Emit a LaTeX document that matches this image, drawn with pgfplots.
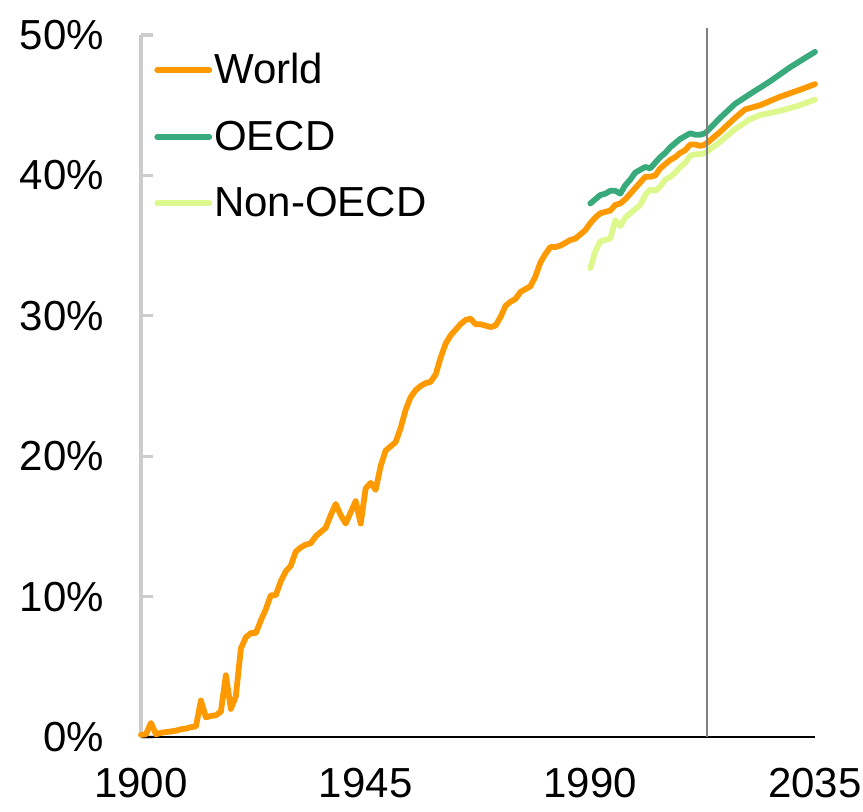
\documentclass[border=0pt]{standalone}
\usepackage{fontspec}
\setmainfont{Liberation Sans}
\usepackage{pgfplots}
\pgfplotsset{compat=1.18}

\definecolor{worldc}{RGB}{255,153,0}
\definecolor{oecdc}{RGB}{56,170,124}
\definecolor{nonoecdc}{RGB}{221,248,140}
\definecolor{axgray}{RGB}{204,204,204}

\newcommand{\bigfont}{\fontsize{21}{25}\selectfont}

\begin{document}
\begin{tikzpicture}
\path[use as bounding box] (-70.5pt,-37pt) rectangle (361pt,368.5pt);
\begin{axis}[
  scale only axis,
  width=337pt, height=351pt,
  xmin=1900, xmax=2035,
  ymin=0, ymax=50,
  clip=false,
  axis x line*=bottom,
  axis y line*=left,
  x axis line style={black, line width=1pt, -},
  y axis line style={axgray, line width=1.6pt, -},
  xtick={1900,1945,1990,2035},
  ytick={0,10,20,30,40,50},
  xtick style={draw=none},
  ytick style={axgray, line width=1.6pt},
  ytick align=inside,
  major tick length=6pt,
  yticklabel={\pgfmathprintnumber{\tick}\%},
  /pgf/number format/assume math mode=true,
  /pgf/number format/1000 sep={},
  ticklabel style={font=\bigfont},
  yticklabel style={xshift=-15pt},
  xticklabel style={yshift=-12pt},
  legend style={at={(0,1)}, anchor=north west, draw=none, fill=none,
    xshift=6.5pt, yshift=-7pt, font=\bigfont, row sep=13pt,
    inner sep=0pt, nodes={inner xsep=1pt}},
  legend cell align=left,
  legend image code/.code={\draw[#1, line cap=round] (0pt,0pt) -- (26pt,0pt);},
  every axis plot/.append style={line width=2.9pt, line join=round, line cap=round},
]
\addplot[worldc] coordinates {
(1900,0.15) (1901,0.2) (1902,1.0) (1903,0.2) (1904,0.3) (1905,0.35) (1906,0.4)
(1907,0.45) (1908,0.55) (1909,0.6) (1910,0.7) (1911,0.75) (1912,2.6) (1913,1.4)
(1914,1.5) (1915,1.55) (1916,1.8) (1917,4.4) (1918,2.0) (1919,2.9) (1920,6.3)
(1921,7.1) (1922,7.4) (1923,7.4) (1924,8.3) (1925,9.1) (1926,10.1) (1927,10.1)
(1928,11.1) (1929,11.8) (1930,12.2) (1931,13.2) (1932,13.5) (1933,13.7) (1934,13.8)
(1935,14.3) (1936,14.6) (1937,14.9) (1938,15.8) (1939,16.6) (1940,15.8) (1941,15.2)
(1942,16.0) (1943,16.8) (1944,15.2) (1945,17.7) (1946,18.1) (1947,17.6) (1948,19.3)
(1949,20.4) (1950,20.7) (1951,21.0) (1952,22.0) (1953,23.3) (1954,24.2) (1955,24.7)
(1956,25.0) (1957,25.2) (1958,25.3) (1959,25.8) (1960,27.0) (1961,28.0) (1962,28.6)
(1963,29.0) (1964,29.4) (1965,29.7) (1966,29.8) (1967,29.4) (1968,29.4) (1969,29.3)
(1970,29.2) (1971,29.3) (1972,29.9) (1973,30.7) (1974,31.0) (1975,31.2) (1976,31.7)
(1977,31.9) (1978,32.1) (1979,32.8) (1980,33.8) (1981,34.4) (1982,34.9) (1983,34.9)
(1984,35.0) (1985,35.2) (1986,35.4) (1987,35.5) (1988,35.8) (1989,36.1) (1990,36.6)
(1991,37.0) (1992,37.3) (1993,37.4) (1994,37.5) (1995,37.9) (1996,38.0) (1997,38.3)
(1998,38.7) (1999,39.1) (2000,39.5) (2001,39.9) (2002,39.9) (2003,40.0) (2004,40.5)
(2005,40.8) (2006,41.1) (2007,41.3) (2008,41.6) (2009,41.8) (2010,42.2) (2011,42.2)
(2012,42.1) (2013,42.2) (2016,43.1) (2019,44.1) (2021,44.7) (2024,45.0) (2028,45.6)
(2032,46.1) (2035,46.5)
};
\addlegendentry{World}
\addplot[oecdc] coordinates {
(1990,38.0) (1991,38.3) (1992,38.6) (1993,38.7) (1994,38.9) (1995,38.9) (1996,38.7)
(1997,39.3) (1998,39.7) (1999,40.2) (2000,40.4) (2001,40.6) (2002,40.5) (2003,40.9)
(2004,41.3) (2005,41.6) (2006,42.0) (2007,42.3) (2008,42.6) (2009,42.8) (2010,43.0)
(2011,42.9) (2012,42.9) (2013,43.0) (2016,44.1) (2019,45.1) (2022,45.8) (2026,46.7)
(2030,47.7) (2035,48.8)
};
\addlegendentry{OECD}
\addplot[nonoecdc] coordinates {
(1990,33.4) (1991,34.6) (1992,35.3) (1993,35.4) (1994,35.5) (1995,36.8) (1996,36.4)
(1997,37.0) (1998,37.3) (1999,37.6) (2000,37.9) (2001,38.6) (2002,39.0) (2003,38.9)
(2004,39.2) (2005,39.7) (2006,39.9) (2007,40.2) (2008,40.6) (2009,40.9) (2010,41.4)
(2011,41.5) (2012,41.5) (2013,41.6) (2016,42.4) (2019,43.3) (2022,44.0) (2024,44.3)
(2028,44.6) (2032,45.0) (2035,45.4)
};
\addlegendentry{Non-OECD}
\addplot[gray, line width=0.85pt, line cap=butt, forget plot] coordinates {(2013.4,0) (2013.4,50.5)};
\end{axis}
\end{tikzpicture}
\end{document}
